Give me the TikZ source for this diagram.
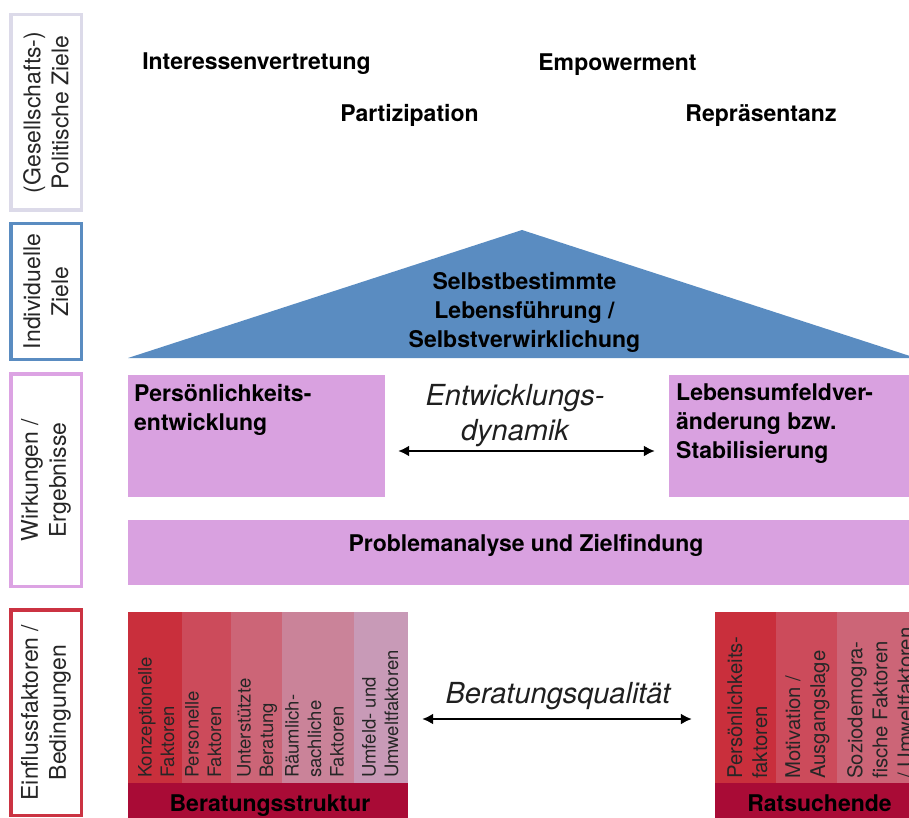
\documentclass[tikz,border=0pt]{standalone}
\usepackage{fontspec}
\setmainfont{TeX Gyre Heros}
\usetikzlibrary{arrows.meta}
\definecolor{lavb}{HTML}{DCDAE9}
\definecolor{blueb}{HTML}{5A8CC1}
\definecolor{pinkb}{HTML}{DCA3E3}
\definecolor{pinkf}{HTML}{D9A1E0}
\definecolor{redb}{HTML}{CB3342}
\definecolor{cA}{HTML}{C92F3C}
\definecolor{cB}{HTML}{CC4B5B}
\definecolor{cC}{HTML}{CC6577}
\definecolor{cD}{HTML}{CA8399}
\definecolor{cE}{HTML}{C89AB7}
\definecolor{band}{HTML}{A90B36}
\begin{document}
\begin{tikzpicture}[x=1pt,y=-1pt,
  labbox/.style={draw, line width=3.5pt, fill=white, minimum width=70.5pt, inner sep=0pt},
  labtext/.style={font=\fontsize{23}{28}\selectfont, text=black!85, rotate=90, align=center, inner sep=0pt},
  boldtxt/.style={font=\fontsize{23}{29}\selectfont\bfseries, text=black, inner sep=0pt},
  pinkbox/.style={fill=pinkf, inner sep=0pt},
  coltxt/.style={font=\fontsize{18.5}{22.5}\selectfont, text=black!85, rotate=90, align=left, anchor=north west, inner sep=0pt},
  coltxtb/.style={font=\fontsize{20.3}{25}\selectfont, text=black!85, rotate=90, align=left, anchor=north west, inner sep=0pt},
  itxt/.style={font=\fontsize{29}{35}\selectfont\itshape, text=black!88, inner sep=0pt},
  blockbox/.style={inner sep=0pt},
  arr/.style={{Latex[length=11pt,width=11pt]}-{Latex[length=11pt,width=11pt]}, line width=2pt}
]
\useasboundingbox (0,0) rectangle (909,818);
\clip (0,0) rectangle (909,818);

% left label boxes
\node[labbox, draw=lavb, minimum height=195.5pt] (g1) at (46,112.5) {};
\node[labtext] (g1t) at (g1) {(Gesellschafts-)\\Politische Ziele};
\node[labbox, draw=blueb, minimum height=135.5pt] (g2) at (46,291.5) {};
\node[labtext] (g2t) at (g2) {Individuelle\\Ziele};
\node[labbox, draw=pinkb, minimum height=212.5pt] (g3) at (46,480) {};
\node[labtext] (g3t) at (g3) {Wirkungen /\\Ergebnisse};
\node[labbox, draw=redb, minimum height=205.5pt] (g4) at (46,712.5) {};
\node[labtext] (g4t) at (g4) {Einflussfaktoren /\\Bedingungen};

% political goals
\node[boldtxt, anchor=base] (iv) at (256.5,70) {Interessenvertretung};
\node[boldtxt, anchor=base] (em) at (617.5,71) {Empowerment};
\node[boldtxt, anchor=base] (pa) at (409.5,122) {Partizipation};
\node[boldtxt, anchor=base] (re) at (761,122) {Repräsentanz};

% triangle
\fill[blueb] (128,358) -- (522,230) -- (916,358) -- cycle;
\node[boldtxt, align=center, anchor=north] (sb) at (524.5,272) {Selbstbestimmte\\Lebensführung /\\Selbstverwirklichung};

% effects
\node[pinkbox, minimum width=257pt, minimum height=122pt] (pl) at (256.5,436) {};
\node[boldtxt, align=left, anchor=north west] (plt) at (134,384) {Persönlichkeits-\\entwicklung};
\node[pinkbox, minimum width=257pt, minimum height=122pt] (pr) at (797.5,436) {};
\node[boldtxt, align=left, anchor=north west] (prt) at (676,384) {Lebensumfeldver-\\änderung bzw.\\Stabilisierung};
\node[pinkbox, minimum width=796pt, minimum height=65pt] (pw) at (526,552.5) {};
\node[boldtxt, anchor=north] (pwt) at (526,534) {Problemanalyse und Zielfindung};

\node[itxt, align=center, anchor=north] (ed) at (515,384) {Entwicklungs-\\dynamik};
\draw[arr] ([xshift=13pt,yshift=-15pt]pl.east) -- ([xshift=-14pt,yshift=-15pt]pr.west);

% conditions: Beratungsstruktur
\fill[cA] (128,612) rectangle (182,783);
\fill[cB] (182,612) rectangle (231,783);
\fill[cC] (231,612) rectangle (282,783);
\fill[cD] (282,612) rectangle (354,783);
\fill[cE] (354,612) rectangle (408,783);
\fill[band] (128,783) rectangle (408,818);
\node[blockbox, minimum width=280pt, minimum height=206pt] (bs) at (268,715) {};
\node[coltxt] (t1) at (138,778) {Konzeptionelle\\Faktoren};
\node[coltxt] (t2) at (185,778) {Personelle\\Faktoren};
\node[coltxt] (t3) at (237,778) {Unterstützte\\Beratung};
\node[coltxt] (t4) at (285,778) {Räumlich-\\sachliche\\Faktoren};
\node[coltxt] (t5) at (362,778) {Umfeld- und\\Umweltfaktoren};
\node[boldtxt, anchor=base] (bst) at (270,811) {Beratungsstruktur};

% Ratsuchende
\fill[cA] (715,612) rectangle (776,783);
\fill[cB] (776,612) rectangle (837,783);
\fill[cC] (837,612) rectangle (924,783);
\fill[band] (715,783) rectangle (924,818);
\node[blockbox, minimum width=209pt, minimum height=206pt] (rs) at (819.5,715) {};
\node[coltxtb] (r1) at (727,779) {Persönlichkeits-\\faktoren};
\node[coltxtb] (r2) at (785,779) {Motivation /\\Ausgangslage};
\node[coltxtb] (r3) at (847,779) {Soziodemogra-\\fische Faktoren\\/ Umweltfaktoren};
\node[boldtxt, anchor=base] (rst) at (819.5,811) {Ratsuchende};

\node[itxt, anchor=base] (bq) at (558,703) {Beratungsqualität};
\draw[arr] ([xshift=14pt,yshift=-4pt]bs.east) -- ([xshift=-23pt,yshift=-4pt]rs.west);
\end{tikzpicture}
\end{document}
